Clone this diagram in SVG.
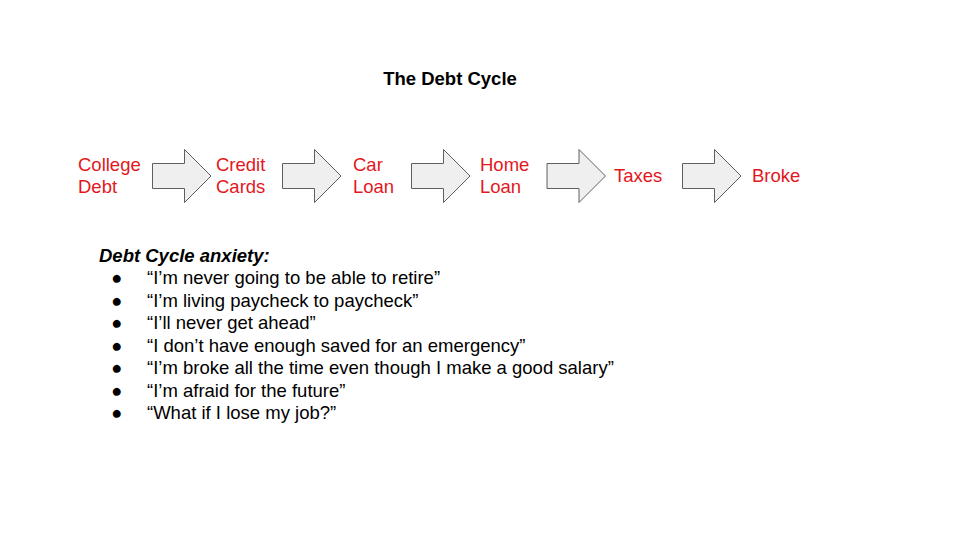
<svg xmlns="http://www.w3.org/2000/svg" width="960" height="540" viewBox="0 0 960 540">
<defs>
<style>
text{font-family:"Liberation Sans",Arial,sans-serif;font-size:18.5px}
.title{font-weight:bold;fill:#000}
.lbl{fill:#e3171c}
.arrow{fill:#efefef;stroke:#5f5f5f;stroke-width:1}
.head{font-weight:bold;font-style:italic;fill:#000}
.item{fill:#000}
</style>
<polygon id="arr" class="arrow" points="0,-12.5 32,-12.5 32,-26.5 58.5,0 32,26.5 32,12.5 0,12.5"/>
</defs>
<rect width="960" height="540" fill="#fff"/>
<g id="title"><text class="title" x="450" y="85" text-anchor="middle">The Debt Cycle</text></g>
<g id="connectors">
<use href="#arr" x="152.5" y="176"/>
<use href="#arr" x="282.5" y="176"/>
<use href="#arr" x="411.5" y="176"/>
<use href="#arr" x="547" y="176"/>
<use href="#arr" x="682.5" y="176"/>
</g>
<g id="college"><text class="lbl" x="78" y="171">College</text><text class="lbl" x="78" y="193">Debt</text></g>
<g id="credit"><text class="lbl" x="216" y="171">Credit</text><text class="lbl" x="216" y="193">Cards</text></g>
<g id="car"><text class="lbl" x="353" y="171">Car</text><text class="lbl" x="353" y="193">Loan</text></g>
<g id="home"><text class="lbl" x="480" y="171">Home</text><text class="lbl" x="480" y="193">Loan</text></g>
<g id="taxes"><text class="lbl" x="614" y="182">Taxes</text></g>
<g id="broke"><text class="lbl" x="752" y="182">Broke</text></g>
<g id="anxiety">
<text class="head" x="99" y="262">Debt Cycle anxiety:</text>
<g class="item">
<text x="111" y="284">●</text><text x="147" y="284">“I’m never going to be able to retire”</text>
<text x="111" y="306.5">●</text><text x="147" y="306.5">“I’m living paycheck to paycheck”</text>
<text x="111" y="329">●</text><text x="147" y="329">“I’ll never get ahead”</text>
<text x="111" y="351.5">●</text><text x="147" y="351.5">“I don’t have enough saved for an emergency”</text>
<text x="111" y="374">●</text><text x="147" y="374">“I’m broke all the time even though I make a good salary”</text>
<text x="111" y="396.5">●</text><text x="147" y="396.5">“I’m afraid for the future”</text>
<text x="111" y="419">●</text><text x="147" y="419">“What if I lose my job?”</text>
</g>
</g>
</svg>
